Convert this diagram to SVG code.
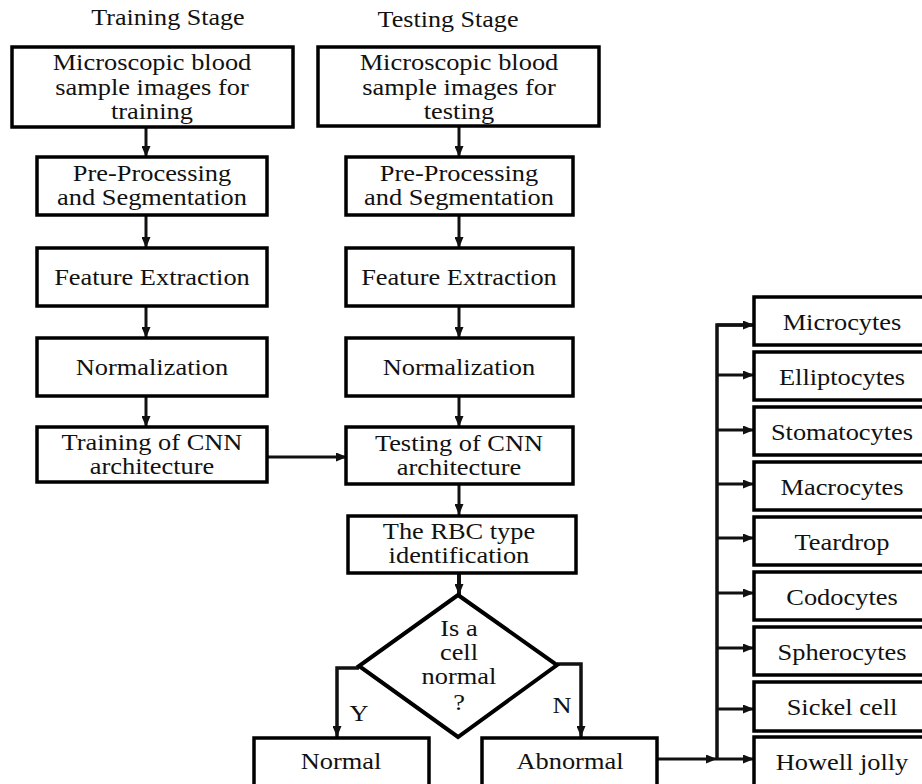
<svg xmlns="http://www.w3.org/2000/svg" width="922" height="784" viewBox="0 0 922 784">
<style>
.b{fill:#fff;stroke:#000;stroke-width:3.5}
.t,.h{font-family:"Liberation Serif","Times New Roman",serif;fill:#111;text-anchor:middle;transform-box:fill-box;transform-origin:center}
.t{font-size:24px;transform:scaleX(1.1)}
.h{font-size:22.5px;transform:scaleX(1.16)}
.c{fill:none;stroke:#111;stroke-width:3}
</style>
<defs>
<marker id="a" markerUnits="userSpaceOnUse" markerWidth="11" markerHeight="9" refX="11" refY="4.5" orient="auto">
<path d="M0,0 L11,4.5 L0,9 z" fill="#111"/>
</marker>
</defs>
<rect width="922" height="784" fill="#fff"/>
<text class="h" x="168" y="25">Training Stage</text>
<text class="h" x="448" y="27">Testing Stage</text>

<g id="connectors">
<path class="c" d="M146,127 V157" marker-end="url(#a)"/>
<path class="c" d="M146,215 V248" marker-end="url(#a)"/>
<path class="c" d="M146,306 V338" marker-end="url(#a)"/>
<path class="c" d="M146,396 V427" marker-end="url(#a)"/>
<path class="c" d="M459,126 V157" marker-end="url(#a)"/>
<path class="c" d="M459,215 V248" marker-end="url(#a)"/>
<path class="c" d="M459,306 V338" marker-end="url(#a)"/>
<path class="c" d="M459,396 V427" marker-end="url(#a)"/>
<path class="c" d="M267,457 H347" marker-end="url(#a)"/>
<path class="c" d="M459,484 V515" marker-end="url(#a)"/>
<path class="c" style="stroke-width:4" d="M459,573 V595" marker-end="url(#a)"/>
<path class="c" style="stroke-width:3.5" d="M359,668 H337 V737" marker-end="url(#a)"/>
<path class="c" style="stroke-width:3.5" d="M557,664 H581 V737" marker-end="url(#a)"/>
<text class="t" x="359" y="721">Y</text>
<text class="t" x="562" y="713">N</text>
<path class="c" d="M658,759 H717" marker-end="url(#a)"/>
<path class="c" style="stroke-width:3.5" d="M754,325 H717 V759"/>
<path class="c" d="M717,325 H754" marker-end="url(#a)"/>
<path class="c" d="M717,375 H754" marker-end="url(#a)"/>
<path class="c" d="M717,430 H754" marker-end="url(#a)"/>
<path class="c" d="M717,484 H754" marker-end="url(#a)"/>
<path class="c" d="M717,538 H754" marker-end="url(#a)"/>
<path class="c" d="M717,593 H754" marker-end="url(#a)"/>
<path class="c" d="M717,648 H754" marker-end="url(#a)"/>
<path class="c" d="M717,709 H754" marker-end="url(#a)"/>
<path class="c" d="M717,759 H754" marker-end="url(#a)"/>
</g>

<g id="train-input"><rect class="b" x="12" y="47" width="281" height="80"/>
<text class="t" x="152" y="70">Microscopic blood</text><text class="t" x="152" y="95">sample images for</text><text class="t" x="152" y="119">training</text></g>
<g id="train-pre"><rect class="b" x="37" y="157" width="230" height="58"/>
<text class="t" x="152" y="181">Pre-Processing</text><text class="t" x="152" y="205">and Segmentation</text></g>
<g id="train-feat"><rect class="b" x="37" y="248" width="230" height="58"/>
<text class="t" x="152" y="285">Feature Extraction</text></g>
<g id="train-norm"><rect class="b" x="37" y="338" width="230" height="58"/>
<text class="t" x="152" y="375">Normalization</text></g>
<g id="train-cnn"><rect class="b" x="37" y="427" width="230" height="55"/>
<text class="t" x="152" y="450">Training of CNN</text><text class="t" x="152" y="474">architecture</text></g>

<g id="test-input"><rect class="b" x="318" y="47" width="281" height="79"/>
<text class="t" x="459" y="70">Microscopic blood</text><text class="t" x="459" y="95">sample images for</text><text class="t" x="459" y="119">testing</text></g>
<g id="test-pre"><rect class="b" x="346" y="157" width="227" height="58"/>
<text class="t" x="459" y="181">Pre-Processing</text><text class="t" x="459" y="205">and Segmentation</text></g>
<g id="test-feat"><rect class="b" x="346" y="248" width="227" height="58"/>
<text class="t" x="459" y="285">Feature Extraction</text></g>
<g id="test-norm"><rect class="b" x="346" y="338" width="227" height="58"/>
<text class="t" x="459" y="375">Normalization</text></g>
<g id="test-cnn"><rect class="b" x="346" y="427" width="227" height="57"/>
<text class="t" x="459" y="451">Testing of CNN</text><text class="t" x="459" y="475">architecture</text></g>
<g id="rbc"><rect class="b" x="348" y="516" width="228" height="57"/>
<text class="t" x="459" y="539">The RBC type</text><text class="t" x="459" y="563">identification</text></g>
<g id="decision"><path class="b" style="stroke-width:4" d="M458,595 L557,665 L458,737 L359,666 z"/>
<text class="t" x="459" y="636">Is a</text><text class="t" x="459" y="660">cell</text><text class="t" x="459" y="684">normal</text><text class="t" x="459" y="710">?</text></g>
<g id="normal"><rect class="b" x="254" y="738" width="175" height="70"/>
<text class="t" x="341" y="769">Normal</text></g>
<g id="abnormal"><rect class="b" x="482" y="738" width="175" height="70"/>
<text class="t" x="570" y="769">Abnormal</text></g>

<g id="microcytes"><rect class="b" x="754" y="297" width="180" height="48"/><text class="t" x="842" y="330">Microcytes</text></g>
<g id="elliptocytes"><rect class="b" x="754" y="352" width="180" height="48"/><text class="t" x="842" y="385">Elliptocytes</text></g>
<g id="stomatocytes"><rect class="b" x="754" y="407" width="180" height="48"/><text class="t" x="842" y="440">Stomatocytes</text></g>
<g id="macrocytes"><rect class="b" x="754" y="462" width="180" height="48"/><text class="t" x="842" y="495">Macrocytes</text></g>
<g id="teardrop"><rect class="b" x="754" y="517" width="180" height="48"/><text class="t" x="842" y="550">Teardrop</text></g>
<g id="codocytes"><rect class="b" x="754" y="572" width="180" height="48"/><text class="t" x="842" y="605">Codocytes</text></g>
<g id="spherocytes"><rect class="b" x="754" y="627" width="180" height="48"/><text class="t" x="842" y="660">Spherocytes</text></g>
<g id="sickel"><rect class="b" x="754" y="682" width="180" height="49"/><text class="t" x="842" y="715">Sickel cell</text></g>
<g id="howell"><rect class="b" x="754" y="737" width="180" height="70"/><text class="t" x="842" y="770">Howell jolly</text></g>
</svg>
